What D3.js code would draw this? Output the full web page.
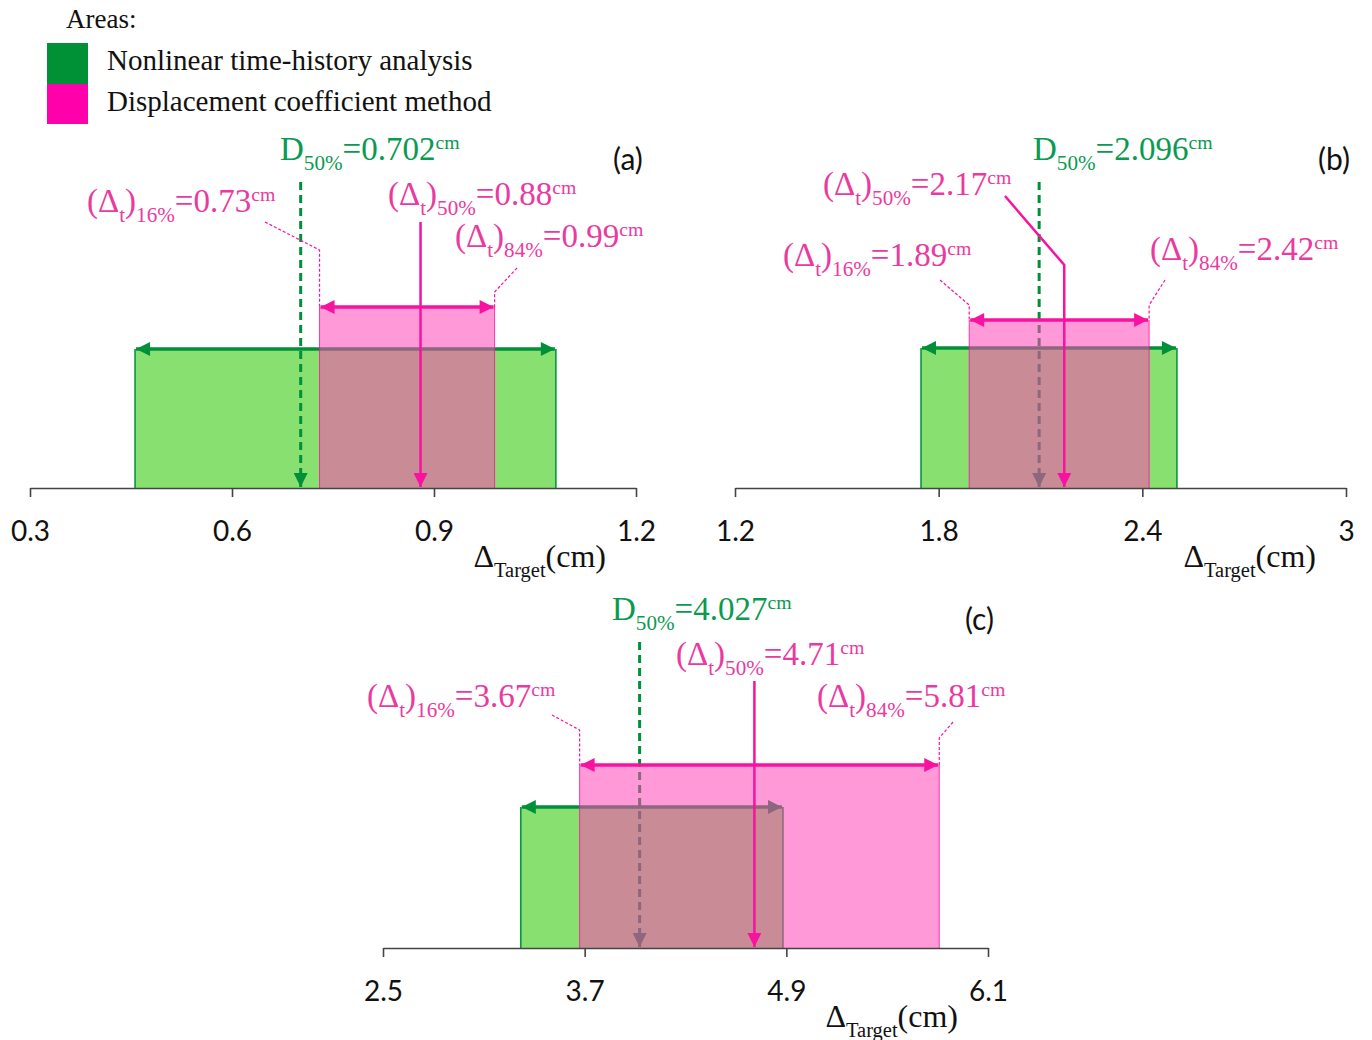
<!DOCTYPE html>
<html>
<head>
<meta charset="utf-8">
<script src="https://cdn.jsdelivr.net/npm/d3@7"></script>
<style>
  body { margin: 0; background: #fff; }
</style>
</head>
<body>
<div id="chart"></div>
<script>
// values (cm)
var panelNames = ["(a)", "(b)", "(c)"];
var axisDomains = [[0.3, 1.2], [1.2, 3], [2.5, 6.1]];
var axisTicks = [[0.3, 0.6, 0.9, 1.2], [1.2, 1.8, 2.4, 3], [2.5, 3.7, 4.9, 6.1]];
var nthaRange = [[0.456, 1.081], [1.748, 2.502], [3.32, 4.88]];
var nthaMedian = [0.702, 2.096, 4.027];
var dcm16 = [0.73, 1.89, 3.67];
var dcm50 = [0.88, 2.17, 4.71];
var dcm84 = [0.99, 2.42, 5.81];
var medianText = ["0.702", "2.096", "4.027"];
var dcm16Text = ["0.73", "1.89", "3.67"];
var dcm50Text = ["0.88", "2.17", "4.71"];
var dcm84Text = ["0.99", "2.42", "5.81"];

// page layout of each panel (pixels)
var layout = [
  { left: 30, right: 636, base: 488, greenH: 139, pinkH: 181, dashTop: 182, lineTop: 222,
    tag: [613, 170], d50: [280, 160], t50: [388, 205], t16: [87, 212], t84: [455, 247],
    l16: [265, 222, 250], l84: [517, 268, 292], bend: null },
  { left: 735, right: 1346, base: 488, greenH: 140, pinkH: 168, dashTop: 182, lineTop: 265,
    tag: [1318, 170], d50: [1033, 160], t50: [823, 195], t16: [783, 266], t84: [1150, 260],
    l16: [940, 280, 305], l84: [1165, 280, 305], bend: [1005, 196] },
  { left: 383, right: 988, base: 948, greenH: 141, pinkH: 183, dashTop: 642, lineTop: 681,
    tag: [965, 630], d50: [612, 620], t50: [676, 665], t16: [367, 707], t84: [817, 707],
    l16: [552, 715, 730], l84: [953, 722, 738], bend: null }
];

var width = 1372, height = 1040;
var GREEN_FILL = "#88e070", GREEN_LINE = "#00903a", GREEN_TEXT = "#0a9a50";
var PINK_LINE = "#f7139f", PINK_TEXT = "#ea3aa0";
var SERIF = "'Liberation Serif', 'Times New Roman', serif";
var SANS = "Lato, 'Open Sans', sans-serif";

var svg = d3.select("#chart").append("svg")
  .attr("width", width)
  .attr("height", height);

var defs = svg.append("defs");
function addMarker(id, color) {
  defs.append("marker")
    .attr("id", id)
    .attr("viewBox", "0 -5 10 10")
    .attr("refX", 10).attr("refY", 0)
    .attr("markerUnits", "userSpaceOnUse")
    .attr("markerWidth", 18).attr("markerHeight", 14)
    .attr("orient", "auto-start-reverse")
    .append("path")
    .attr("d", "M0,-5L10,0L0,5Z")
    .attr("fill", color);
}
addMarker("arrG", GREEN_LINE);
addMarker("arrP", PINK_LINE);

// text with sub / superscripts
function richText(x, y, parts, size, color) {
  var t = svg.append("text")
    .attr("x", x).attr("y", y)
    .attr("font-family", SERIF)
    .attr("font-size", size)
    .attr("fill", color);
  var cur = 0;
  parts.forEach(function(p) {
    var target = 0, fs = size;
    if (p[1] == "sub") { target = size * 0.3; fs = size * 0.64; }
    if (p[1] == "sup") { target = -size * 0.34; fs = size * 0.6; }
    t.append("tspan").attr("dy", target - cur).attr("font-size", fs).text(p[0]);
    cur = target;
  });
  return t;
}
function deltaLabel(pct, val) {
  return [["(\u0394"], ["t", "sub"], [")"], [pct, "sub"], ["=" + val], ["cm", "sup"]];
}

layout.forEach(function(L, i) {
  var x = d3.scaleLinear().domain(axisDomains[i]).range([L.left, L.right]);
  var g = svg.append("g");

  // NTHA area
  var gx0 = x(nthaRange[i][0]), gx1 = x(nthaRange[i][1]), gTop = L.base - L.greenH;
  g.append("rect")
    .attr("x", gx0).attr("y", gTop)
    .attr("width", gx1 - gx0).attr("height", L.greenH)
    .attr("fill", GREEN_FILL);
  g.append("path")
    .attr("d", "M" + gx0 + "," + L.base + "V" + gTop + "M" + gx1 + "," + L.base + "V" + gTop)
    .attr("stroke", GREEN_LINE).attr("stroke-width", 1.5).attr("fill", "none");
  g.append("line")
    .attr("x1", gx0 + 1).attr("x2", gx1 - 1).attr("y1", gTop).attr("y2", gTop)
    .attr("stroke", GREEN_LINE).attr("stroke-width", 3.5)
    .attr("marker-start", "url(#arrG)").attr("marker-end", "url(#arrG)");
  g.append("line")
    .attr("x1", x(nthaMedian[i])).attr("x2", x(nthaMedian[i]))
    .attr("y1", L.dashTop).attr("y2", L.base - 1)
    .attr("stroke", GREEN_LINE).attr("stroke-width", 3)
    .attr("stroke-dasharray", "8,5")
    .attr("marker-end", "url(#arrG)");

  // DCM area (translucent over the green)
  var px0 = x(dcm16[i]), px1 = x(dcm84[i]), pTop = L.base - L.pinkH;
  g.append("rect")
    .attr("x", px0).attr("y", pTop)
    .attr("width", px1 - px0).attr("height", L.pinkH)
    .attr("fill", "rgb(255,70,182)").attr("fill-opacity", 0.55);
  g.append("path")
    .attr("d", "M" + px0 + "," + L.base + "V" + pTop + "M" + px1 + "," + L.base + "V" + pTop)
    .attr("stroke", PINK_LINE).attr("stroke-width", 1).attr("fill", "none").attr("opacity", 0.8);
  g.append("line")
    .attr("x1", px0 + 1).attr("x2", px1 - 1).attr("y1", pTop).attr("y2", pTop)
    .attr("stroke", PINK_LINE).attr("stroke-width", 3.5)
    .attr("marker-start", "url(#arrP)").attr("marker-end", "url(#arrP)");

  var mx = x(dcm50[i]);
  var medPath = L.bend
    ? "M" + L.bend[0] + "," + L.bend[1] + "L" + mx + "," + L.lineTop + "V" + (L.base - 1)
    : "M" + mx + "," + L.lineTop + "V" + (L.base - 1);
  g.append("path")
    .attr("d", medPath)
    .attr("stroke", PINK_LINE).attr("stroke-width", 2.5).attr("fill", "none")
    .attr("marker-end", "url(#arrP)");

  // leaders from labels to the area corners
  [[L.l16, px0], [L.l84, px1]].forEach(function(d) {
    g.append("path")
      .attr("d", "M" + d[0][0] + "," + d[0][1] + "L" + d[1] + "," + d[0][2] + "V" + pTop)
      .attr("stroke", PINK_LINE).attr("stroke-width", 1.2)
      .attr("stroke-dasharray", "3,2").attr("fill", "none");
  });

  // axis
  var axis = d3.axisBottom(x)
    .tickValues(axisTicks[i])
    .tickFormat(d3.format(""))
    .tickSize(9).tickSizeOuter(0).tickPadding(24);
  var ax = svg.append("g")
    .attr("transform", "translate(0," + L.base + ")")
    .call(axis);
  ax.select(".domain").attr("stroke", "#444").attr("stroke-width", 1.6);
  ax.selectAll(".tick line").attr("stroke", "#444").attr("stroke-width", 1.6);
  ax.selectAll(".tick text")
    .attr("fill", "#111").attr("font-family", SANS).attr("font-size", 28);

  richText(L.right - 30, L.base + 79, [["\u0394"], ["Target", "sub"], ["(cm)"]], 32, "#111")
    .attr("text-anchor", "end");

  // annotations
  svg.append("text")
    .attr("x", L.tag[0]).attr("y", L.tag[1])
    .attr("font-family", SANS).attr("font-size", 30).attr("fill", "#111")
    .text(panelNames[i]);
  richText(L.d50[0], L.d50[1], [["D"], ["50%", "sub"], ["=" + medianText[i]], ["cm", "sup"]], 33, GREEN_TEXT);
  richText(L.t50[0], L.t50[1], deltaLabel("50%", dcm50Text[i]), 33, PINK_TEXT);
  richText(L.t16[0], L.t16[1], deltaLabel("16%", dcm16Text[i]), 33, PINK_TEXT);
  richText(L.t84[0], L.t84[1], deltaLabel("84%", dcm84Text[i]), 33, PINK_TEXT);
});

// legend
var legend = svg.append("g").attr("class", "legend");
legend.append("text").attr("x", 66).attr("y", 28)
  .attr("font-family", SERIF).attr("font-size", 27).attr("fill", "#111").text("Areas:");
legend.append("rect").attr("x", 47).attr("y", 43).attr("width", 41).attr("height", 41).attr("fill", "#009036");
legend.append("rect").attr("x", 47).attr("y", 84).attr("width", 41).attr("height", 40).attr("fill", "#ff00aa");
legend.append("text").attr("x", 107).attr("y", 70)
  .attr("font-family", SERIF).attr("font-size", 29).attr("fill", "#111").text("Nonlinear time-history analysis");
legend.append("text").attr("x", 107).attr("y", 111)
  .attr("font-family", SERIF).attr("font-size", 29).attr("fill", "#111").text("Displacement coefficient method");
</script>
</body>
</html>
